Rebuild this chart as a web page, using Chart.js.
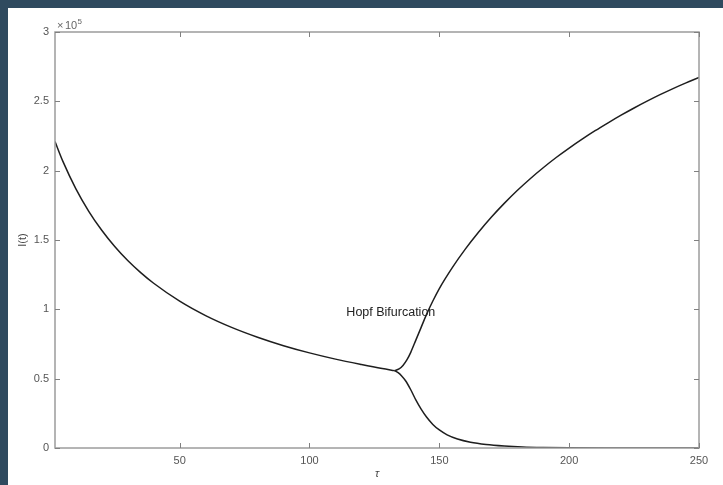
<!DOCTYPE html>
<html>
<head>
<meta charset="utf-8">
<script src="https://cdn.jsdelivr.net/npm/chart.js@4/dist/chart.umd.min.js"></script>
<style>
  html, body { margin: 0; padding: 0; width: 723px; height: 485px; background: #2f4a5f; overflow: hidden; }
  #wrap { position: absolute; left: 8px; top: 8px; width: 715px; height: 477px; background: #ffffff; }
</style>
</head>
<body>
<div id="wrap"><canvas id="c"></canvas></div>
<script>
// Delay τ on the x axis, I(t) (in units of 10^5) on the y axis.
// Single stable branch before the Hopf point.
const tauStable = [2, 5, 10, 15, 20, 25, 30, 35, 40, 50, 60, 70, 80, 90, 100, 110, 120, 128, 132.7];
const iStable   = [2.21, 2.069, 1.871, 1.707, 1.570, 1.453, 1.352, 1.265, 1.188, 1.059, 0.955, 0.870, 0.799, 0.738, 0.686, 0.641, 0.602, 0.573, 0.558];

// Maximum of the oscillation after the bifurcation.
const tauUpper = [132.7, 134.5, 136, 137.5, 139, 141, 143, 145, 147.5, 150, 155, 160, 165, 170, 175, 180, 185, 190, 195, 200, 205, 210, 215, 220, 225, 230, 235, 240, 245, 250];
const iUpper   = [0.558, 0.57, 0.595, 0.635, 0.69, 0.78, 0.87, 0.96, 1.06, 1.15, 1.301, 1.434, 1.554, 1.664, 1.764, 1.857, 1.942, 2.021, 2.095, 2.163, 2.227, 2.288, 2.345, 2.40, 2.452, 2.501, 2.548, 2.592, 2.633, 2.672];

// Minimum of the oscillation after the bifurcation.
const tauLower = [132.7, 134, 135.5, 137, 139, 141, 143, 145, 147.5, 150, 153, 157, 162, 168, 175, 182, 190, 200, 215, 250];
const iLower   = [0.558, 0.545, 0.52, 0.485, 0.42, 0.345, 0.28, 0.225, 0.17, 0.13, 0.095, 0.065, 0.042, 0.026, 0.015, 0.008, 0.004, 0.0015, 0.0004, 0];

const xTicks = [50, 100, 150, 200, 250];
const yTicks = [0, 0.5, 1, 1.5, 2, 2.5, 3];
const yExponent = 5;

const hopfLabel = { text: 'Hopf Bifurcation', tau: 114.2, value: 0.98 };

const toPoints = (xs, ys) => xs.map((x, i) => ({ x: x, y: ys[i] }));

const lineStyle = {
  showLine: true,
  borderColor: '#1e1e1e',
  borderWidth: 1.5,
  pointRadius: 0,
  pointHoverRadius: 0,
  fill: false,
  cubicInterpolationMode: 'monotone'
};

const FONT = '"Liberation Sans", Arial, sans-serif';

// Box frame, inward ticks on all sides, exponent marker and annotation.
const framePlugin = {
  id: 'frame',
  afterDatasetsDraw(chart) {
    const { ctx, chartArea: a, scales: { x, y } } = chart;
    ctx.save();
    ctx.strokeStyle = '#9c9c9c';
    ctx.lineWidth = 1.5;
    ctx.strokeRect(a.left, a.top, a.right - a.left, a.bottom - a.top);

    ctx.strokeStyle = '#808080';
    ctx.lineWidth = 1;
    const tl = 5;
    ctx.beginPath();
    xTicks.forEach(v => {
      const px = Math.round(x.getPixelForValue(v)) + 0.5;
      ctx.moveTo(px, a.bottom); ctx.lineTo(px, a.bottom - tl);
      ctx.moveTo(px, a.top); ctx.lineTo(px, a.top + tl);
    });
    yTicks.forEach(v => {
      const py = Math.round(y.getPixelForValue(v)) + 0.5;
      ctx.moveTo(a.left, py); ctx.lineTo(a.left + tl, py);
      ctx.moveTo(a.right, py); ctx.lineTo(a.right - tl, py);
    });
    ctx.stroke();

    // ×10^5 above the y axis
    ctx.fillStyle = '#666666';
    ctx.textBaseline = 'alphabetic';
    ctx.textAlign = 'left';
    ctx.font = '11px ' + FONT;
    const bx = a.left + 2, by = a.top - 3;
    ctx.fillText('\u00d7', bx, by);
    ctx.fillText('10', bx + 8, by);
    ctx.font = '8px ' + FONT;
    ctx.fillText(String(yExponent), bx + 20.5, by - 5);

    // annotation at the bifurcation
    ctx.fillStyle = '#222222';
    ctx.font = '12.5px ' + FONT;
    ctx.textBaseline = 'middle';
    ctx.fillText(hopfLabel.text, x.getPixelForValue(hopfLabel.tau), y.getPixelForValue(hopfLabel.value));
    ctx.restore();
  }
};

new Chart(document.getElementById('c'), {
  type: 'scatter',
  data: {
    datasets: [
      Object.assign({ label: 'stable', data: toPoints(tauStable, iStable) }, lineStyle),
      Object.assign({ label: 'max', data: toPoints(tauUpper, iUpper) }, lineStyle),
      Object.assign({ label: 'min', data: toPoints(tauLower, iLower) }, lineStyle)
    ]
  },
  options: {
    responsive: true,
    maintainAspectRatio: false,
    animation: false,
    layout: { padding: { top: 24, right: 24, left: 0, bottom: 0 } },
    plugins: { legend: { display: false }, tooltip: { enabled: false } },
    scales: {
      x: {
        type: 'linear',
        min: 2,
        max: 250,
        grid: { display: false, drawTicks: false },
        border: { display: false },
        afterBuildTicks: s => { s.ticks = xTicks.map(v => ({ value: v })); },
        afterFit: s => { s.height = 37; },
        ticks: {
          color: '#555555',
          font: { family: FONT, size: 11 },
          padding: 6,
          maxRotation: 0
        },
        title: {
          display: true,
          text: '\u03c4',
          color: '#444444',
          font: { family: FONT, size: 11, style: 'italic' },
          padding: { top: 0, bottom: 4 }
        }
      },
      y: {
        type: 'linear',
        min: 0,
        max: 3,
        grid: { display: false, drawTicks: false },
        border: { display: false },
        afterBuildTicks: s => { s.ticks = yTicks.map(v => ({ value: v })); },
        afterFit: s => { s.width = 47; },
        ticks: {
          color: '#555555',
          font: { family: FONT, size: 11 },
          padding: 6,
          callback: v => String(v)
        },
        title: {
          display: true,
          text: 'I(t)',
          color: '#444444',
          font: { family: FONT, size: 11 },
          padding: { top: 8, bottom: 0 }
        }
      }
    }
  },
  plugins: [framePlugin]
});
</script>
</body>
</html>
